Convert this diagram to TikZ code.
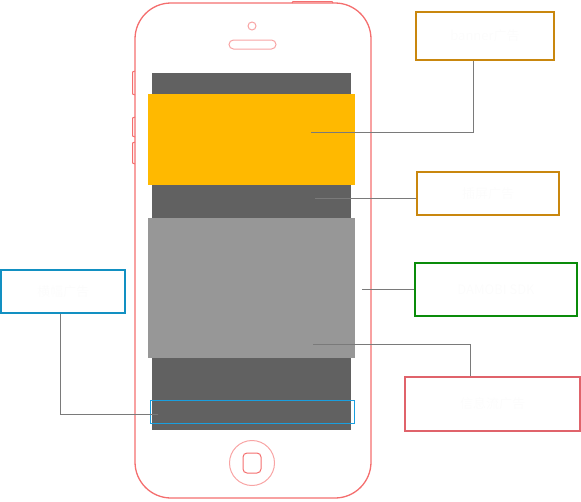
\documentclass[tikz,border=0pt]{standalone}
\usepackage{fontspec}
\setmainfont{Noto Sans CJK SC}
\definecolor{phonered}{HTML}{F46E6E}
\definecolor{phonelight}{HTML}{F8A4A4}
\definecolor{screengray}{HTML}{616161}
\definecolor{adyellow}{HTML}{FFB900}
\definecolor{adgray}{HTML}{979797}
\definecolor{stripblue}{HTML}{1A9FDF}
\definecolor{boxorange}{HTML}{C9870E}
\definecolor{boxgreen}{HTML}{0A8C0A}
\definecolor{boxred}{HTML}{E0636B}
\definecolor{boxblue}{HTML}{1290C2}
\definecolor{linkgray}{HTML}{7A7A7A}
\begin{document}
\begin{tikzpicture}[
    x=1pt, y=-1pt,
    area/.style={rectangle, inner sep=0pt, outer sep=0pt, anchor=north west},
    adbox/.style={rectangle, draw, line width=2pt, inner sep=0pt, text=white!99!black, font=\fontsize{13}{15}\selectfont},
    link/.style={draw=linkgray, line width=0.8pt},
    phone/.style={draw=phonered, line width=1.3pt}
]
\useasboundingbox (0,0) rectangle (581,501);

% Gehaeuse
\draw[phone, rounded corners=36pt] (135,3) rectangle (371,498);
\draw[phone, line width=1pt] (292,3) -- (293,1.5) -- (332,1.5) -- (333,3);
\draw[phone, line width=1pt] (135,71) -- (132.5,72) -- (132.5,94) -- (135,95);
\draw[phone, line width=1pt] (135,117) -- (132.5,118) -- (132.5,136) -- (135,137);
\draw[phone, line width=1pt] (135,142) -- (132.5,143) -- (132.5,163) -- (135,164);
\draw[draw=phonelight, line width=1pt] (252,26) circle (4);
\draw[draw=phonelight, line width=1pt, rounded corners=4.5pt] (229,40) rectangle (276,49);
\draw[draw=phonelight, line width=1pt] (252,463) circle (22.5);
\draw[draw=phonered, line width=1pt, rounded corners=4pt] (243,453) rectangle (261,473);

% Bildschirm
\node[area, fill=screengray, minimum width=199pt, minimum height=357pt] at (152,73) (screen) {};
\node[area, fill=adyellow, minimum width=207pt, minimum height=91pt] at (148,94) (bannerarea) {};
\node[area, fill=adgray, minimum width=207pt, minimum height=140pt] at (148,218) (feedarea) {};
\node[area, draw=stripblue, line width=1pt, minimum width=204pt, minimum height=23pt] at (150,400) (strip) {};

% Beschriftungen
\node[adbox, draw=boxorange, minimum width=138pt, minimum height=48pt] at (485,36) (banner) {banner广告};
\node[adbox, draw=boxorange, minimum width=142pt, minimum height=43pt] at (488,193.5) (chaping) {插屏广告};
\node[adbox, draw=boxgreen, minimum width=162pt, minimum height=53pt] at (496,289.5) (sdk) {DAMOBI SDK};
\node[adbox, draw=boxred, minimum width=175pt, minimum height=54pt] at (492.5,404) (feed) {信息流广告};
\node[adbox, draw=boxblue, minimum width=124pt, minimum height=43pt] at (63,291.5) (hengfu) {横幅广告};

\coordinate (bannerend) at (311,132);
\coordinate (chapingend) at (315,198);
\coordinate (sdkend) at (362,290);
\coordinate (feedend) at (313,344);
\coordinate (hengfuend) at (158,414);

% Verbindungslinien
\draw[link] ([xshift=-12pt]banner.south) |- (bannerend);
\draw[link] ([yshift=-4.5pt]chaping.west) -- (chapingend);
\draw[link] (sdk.west) -- (sdk.west -| sdkend);
\draw[link] ([xshift=-22.5pt]feed.north) |- (feedend);
\draw[link] ([xshift=-3pt]hengfu.south) |- (hengfuend);
\end{tikzpicture}
\end{document}
